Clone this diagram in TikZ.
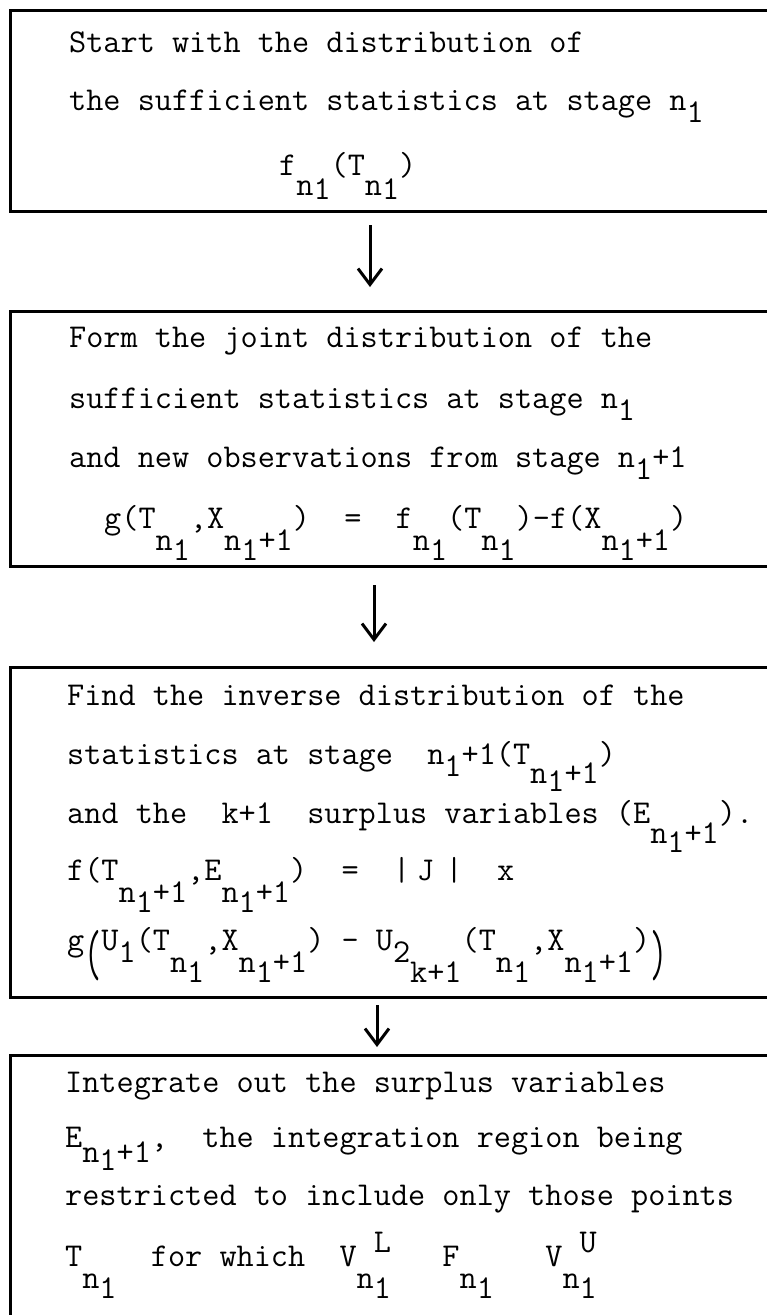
\documentclass[tikz,border=0pt]{standalone}
\usepackage{graphicx}
\usetikzlibrary{arrows.meta, positioning}
% typewriter half-line shifts
\newcommand{\tdn}[2]{\raisebox{-#1pt}{#2}}
\newcommand{\tup}[2]{\raisebox{#1pt}{#2}}
\newcommand{\subn}{\tdn{22}{n}\tdn{32}{1}}
\newcommand{\subnp}{\tdn{22}{n}\tdn{32}{1}\tdn{22}{+1}}
\newcommand{\bigpar}[1]{\tdn{25}{\scalebox{1}[1.95]{#1}}}

\begin{document}
\begin{tikzpicture}[x=1pt, y=-1pt,
    stagebox/.style={rectangle, draw, line width=3pt, minimum width=770pt, inner sep=0pt, outer sep=0pt},
    line/.style={anchor=base west, inner sep=0pt, font=\ttfamily\fontsize{33.3}{40}\selectfont},
    arrow/.style={-{Straight Barb[length=16pt, width=24pt]}, line width=3pt}
]
\useasboundingbox (0,0) rectangle (767,1315);
\clip (0,0) rectangle (767,1315);

\node[stagebox, minimum height=201pt] (b1) at (395,110.5) {};
\node[stagebox, minimum height=255pt, below=100pt of b1] (b2) {};
\node[stagebox, minimum height=330pt, below=101pt of b2] (b3) {};
\node[stagebox, minimum height=290pt, below=58pt of b3] (b4) {};

% stage n1
\node[line] (t11) at (69,52) {Start with the distribution of};
\node[line] (t12) at (69,110) {the sufficient statistics at stage n\tdn{12}{1}};
\node[line] (t13) at (279,175) {f\tdn{20}{n}\tdn{24}{1}(T\tdn{20}{n}\tdn{24}{1})};

% joint distribution
\node[line] (t21) at (69,347) {Form the joint distribution of the};
\node[line] (t22) at (69,408) {sufficient statistics at stage n\tdn{12}{1}};
\node[line] (t23) at (69,467) {and new observations from stage n\tdn{12}{1}+1};
\node[line] (t24) at (104,528) {g(T\subn,X\subnp)~~=~~f\subn(T\subn)-f(X\subnp)};

% inverse distribution
\node[line] (t31) at (67,705) {Find the inverse distribution of the};
\node[line] (t32) at (67,764) {statistics at stage~~n\tdn{12}{1}+1(T\tdn{19}{n}\tdn{27}{1}\tdn{19}{+1})};
\node[line] (t33) at (67,823) {and the~~k+1~~surplus variables (E\tdn{20}{n}\tdn{29}{1}\tdn{20}{+1}).};
\node[line] (t34) at (67,880) {f(T\subnp,E\subnp)~~=~~|\kern.2em J\kern.35em|~~x};
\node[line] (t35) at (67,950) {g\bigpar{(}U\tdn{12}{1}(T\subn,X\subnp)~-~U\tdn{12}{2}\tdn{32}{k+1}(T\subn,X\subnp)\bigpar{)}};

% integration
\node[line] (t41) at (65,1092) {Integrate out the surplus variables};
\node[line] (t42) at (65,1147) {E\tdn{15}{n}\tdn{23}{1}\tdn{15}{+1},~~the integration region being};
\node[line] (t43) at (65,1205) {restricted to include only those points};
\node[line] (t44) at (65,1266) {T\subn~~for which~~V\tdn{22}{n}\rlap{\tup{14}{L}}\tdn{32}{1}~~~F\subn~~~V\tdn{22}{n}\rlap{\tup{14}{U}}\tdn{32}{1}};

\draw[arrow, shorten <=14pt, shorten >=24pt] ([xshift=-25pt]b1.south) -- ([xshift=-25pt]b2.north);
\draw[arrow, shorten <=19pt, shorten >=25pt] ([xshift=-21pt]b2.south) -- ([xshift=-21pt]b3.north);
\draw[arrow, shorten <=8pt, shorten >=8pt] ([xshift=-18pt]b3.south) -- ([xshift=-18pt]b4.north);
\end{tikzpicture}
\end{document}
